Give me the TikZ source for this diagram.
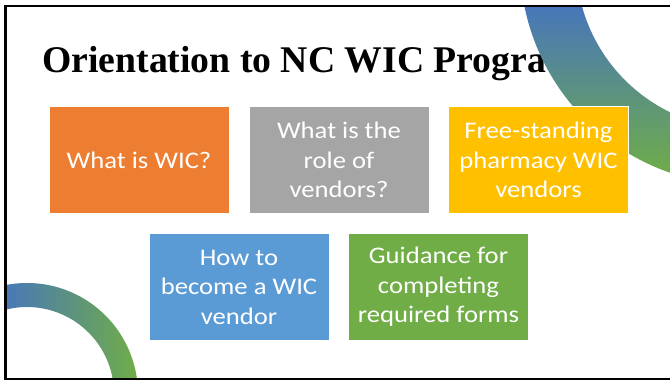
\documentclass[tikz,border=0pt]{standalone}
\usepackage{fontspec}
\usepackage{tikz}
\newfontfamily\titlefont{Liberation Serif}
\newfontfamily\boxfont[FakeStretch=1.12]{Carlito}
\definecolor{wicorange}{HTML}{ED7D31}
\definecolor{wicgray}{HTML}{A5A5A5}
\definecolor{wicyellow}{HTML}{FFC000}
\definecolor{wicblue}{HTML}{5B9BD5}
\definecolor{wicgreen}{HTML}{70AD47}
\definecolor{arcblue}{HTML}{4472C4}

\begin{document}
\begin{tikzpicture}[x=1pt,y=1pt,
	box/.style={minimum width=180pt, minimum height=107pt, inner sep=0pt, draw=white, line width=.8pt, text=white, align=center, font=\boxfont\fontsize{23.8}{29.5}\selectfont}]

	\useasboundingbox (0,0) rectangle (670,380);
	\node[anchor=base west, inner sep=0pt, font=\titlefont\bfseries\fontsize{37.7}{45}\selectfont] (title) at (42,307.3) {Orientation to NC WIC Progra};

	\begin{scope}
	\clip (5.3,0.7) rectangle (670,373.8);
	\shade[shift={(743,418)}, top color=arcblue, bottom color=wicgreen] (190:223) arc[start angle=190, end angle=255, radius=223] -- (255:167) arc[start angle=255, end angle=190, radius=167] -- cycle;
	\shade[shift={(27,-14)}, left color=arcblue, right color=wicgreen] (0:111) arc[start angle=0, end angle=110, radius=111] -- (110:87) arc[start angle=110, end angle=0, radius=87] -- cycle;
	\end{scope}

	\node[box, fill=wicorange] (what) at (139,220) {What is WIC?};
	\node[box, fill=wicgray] (role) at (339,220) {What is the\\role of\\vendors?};
	\node[box, fill=wicyellow] (pharmacy) at (538.5,220) {Free-standing\\pharmacy WIC\\vendors};
	\node[box, fill=wicblue] (become) at (239,93) {How to\\become a WIC\\vendor};
	\node[box, fill=wicgreen] (forms) at (438.5,93) {Guidance for\\completing\\required forms};

	\draw[line width=2.5pt] (670,373.8) -- (5.3,373.8) -- (5.3,0.7) -- (670,0.7);

\end{tikzpicture}
\end{document}
